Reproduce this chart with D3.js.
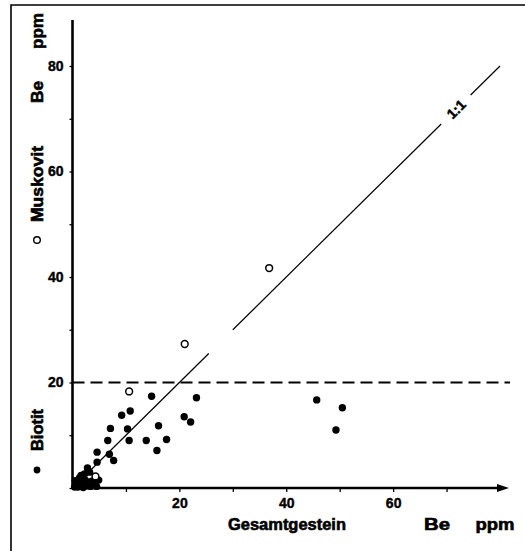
<!DOCTYPE html>
<html>
<head>
<meta charset="utf-8">
<script src="https://cdn.jsdelivr.net/npm/d3@7"></script>
<style>
  body { margin: 0; background: #fff; }
  svg text { font-family: "Liberation Sans", Arial, sans-serif; font-weight: bold; fill: #000; }
</style>
</head>
<body>
<svg class="chart"></svg>
<script>
// Biotit (filled) - Gesamtgestein Be vs. mineral Be, ppm
const biotitX = [14.8, 10.8, 9.2, 7.1, 10.3, 16.1, 6.6, 10.6, 13.8, 17.6, 15.8, 4.6, 6.9, 7.7, 4.6,
  20.9, 22.1, 23.2, 45.7, 50.5, 49.3,
  2.8, 3.2, 2.25, 1.3, 2.4, 3.6, 0.75, 1.7, 2.8, 4.1, 0.4, 4.9, 1.1, 2.1,
  1.6, 0.5, 3.4, 2.0, 4.5, 1.0];
const biotitY = [17.4, 14.6, 13.8, 11.3, 11.2, 11.8, 9.0, 9.0, 9.0, 9.2, 7.1, 6.8, 6.4, 5.2, 4.9,
  13.5, 12.5, 17.1, 16.7, 15.2, 11.0,
  3.8, 3.0, 2.65, 1.9, 1.5, 1.3, 0.75, 0.4, 0.4, 0.75, 0.2, 1.5, 1.1, 0.95,
  2.4, 1.4, 0.3, 0.1, 0.3, 0.2];

// Muskovit (open)
const muskovitX = [10.6, 21.0, 36.8, 4.3];
const muskovitY = [18.3, 27.3, 41.7, 2.2];

// 1:1 line pieces (broken around the label)
const oneToOne = [[0, 25.5], [30, 69], [74.5, 80]];
const biotitLimit = 20;

const yTicks = [0, 10, 20, 30, 40, 50, 60, 70, 80];
const xTicks = [10, 20, 30, 40, 50, 60, 70];
const labelTicks = [20, 40, 60, 80];

const width = 525;
const height = 551;

const svg = d3.select(".chart").attr("width", width).attr("height", height);

const x = d3.scaleLinear().domain([0, 80]).range([72.5, 500]);
const y = d3.scaleLinear().domain([0, 80]).range([488, 66]);

// outer frame (left + top visible)
svg.append("path")
  .attr("d", `M11,${height} V5 H${width}`)
  .attr("fill", "none")
  .attr("stroke", "#000")
  .attr("stroke-width", 1.6);

// y axis ticks + labels
const yAxis = d3.axisLeft(y)
  .tickValues(yTicks)
  .tickSize(3)
  .tickPadding(6)
  .tickFormat((d) => (labelTicks.includes(d) ? d : ""));

const gy = svg.append("g")
  .attr("transform", `translate(${x(0)},0)`)
  .call(yAxis);
gy.select(".domain").remove();
gy.selectAll("line").attr("stroke-width", 1.3);
gy.selectAll("text")
  .style("font-size", "14px").style("font-family", null)
  .attr("stroke", "#000").attr("stroke-width", 0.4);

// x axis ticks + labels
const xAxis = d3.axisBottom(x)
  .tickValues(xTicks)
  .tickSize(4)
  .tickPadding(6)
  .tickFormat((d) => (labelTicks.includes(d) ? d : ""));

const gx = svg.append("g")
  .attr("transform", `translate(0,${y(0)})`)
  .call(xAxis);
gx.select(".domain").remove();
gx.selectAll("line").attr("stroke-width", 1.3);
gx.selectAll("text")
  .style("font-size", "14px").style("font-family", null)
  .attr("stroke", "#000").attr("stroke-width", 0.4);

// axis lines
svg.append("line")
  .attr("x1", x(0)).attr("x2", x(0))
  .attr("y1", y(0) + 1).attr("y2", y(88.7))
  .attr("stroke", "#000").attr("stroke-width", 2.6);

svg.append("line")
  .attr("x1", x(0) - 1).attr("x2", 500)
  .attr("y1", y(0)).attr("y2", y(0))
  .attr("stroke", "#000").attr("stroke-width", 2.6);

svg.append("path")
  .attr("d", `M497,${y(0) - 4} L509,${y(0)} L497,${y(0) + 4} Z`)
  .attr("fill", "#000");

// dashed 20 ppm line
svg.append("line")
  .attr("x1", x(0)).attr("x2", 510)
  .attr("y1", y(biotitLimit)).attr("y2", y(biotitLimit))
  .attr("stroke", "#000")
  .attr("stroke-width", 2)
  .attr("stroke-dasharray", "12,6");

// 1:1 line
svg.append("g")
  .selectAll("line")
  .data(oneToOne)
  .join("line")
  .attr("x1", (d) => x(d[0])).attr("y1", (d) => y(d[0]))
  .attr("x2", (d) => x(d[1])).attr("y2", (d) => y(d[1]))
  .attr("stroke", "#000")
  .attr("stroke-width", 1.2);

const angle = Math.atan2(y(80) - y(0), x(80) - x(0)) * 180 / Math.PI;
svg.append("text")
  .attr("transform", `translate(${x(71.8)},${y(71.8)}) rotate(${angle})`)
  .attr("text-anchor", "middle")
  .attr("dy", "0.35em")
  .attr("stroke", "#000").attr("stroke-width", 0.5)
  .style("font-size", "14px")
  .text("1:1");

// points
const biotit = biotitX.map((v, i) => ({ x: v, y: biotitY[i] }));
const muskovit = muskovitX.map((v, i) => ({ x: v, y: muskovitY[i] }));

svg.append("g")
  .selectAll("circle")
  .data(biotit)
  .join("circle")
  .attr("cx", (d) => x(d.x))
  .attr("cy", (d) => y(d.y))
  .attr("r", 3.7)
  .attr("fill", "#000");

svg.append("g")
  .selectAll("circle")
  .data(muskovit)
  .join("circle")
  .attr("cx", (d) => x(d.x))
  .attr("cy", (d) => y(d.y))
  .attr("r", 3.4)
  .attr("fill", "#fff")
  .attr("stroke", "#000")
  .attr("stroke-width", 1.5);

// y axis title pieces (rotated)
const vText = (txt, cy, len) => {
  svg.append("text")
    .attr("transform", `translate(43,${cy}) rotate(-90)`)
    .attr("text-anchor", "middle")
    .attr("textLength", len)
    .attr("lengthAdjust", "spacingAndGlyphs")
    .attr("stroke", "#000").attr("stroke-width", 0.6)
    .style("font-size", "16px")
    .text(txt);
};
vText("ppm", 31, 36);
vText("Be", 92, 22);
vText("Muskovit", 184, 76);
vText("Biotit", 430, 42);

// legend symbols beside the y title
svg.append("circle")
  .attr("cx", 37).attr("cy", 240).attr("r", 3.3)
  .attr("fill", "#fff").attr("stroke", "#000").attr("stroke-width", 1.4);
svg.append("circle")
  .attr("cx", 37).attr("cy", 470).attr("r", 3.4)
  .attr("fill", "#000");

// x axis title
const hText = (txt, cx, len) => {
  svg.append("text")
    .attr("x", cx).attr("y", 530)
    .attr("text-anchor", "middle")
    .attr("textLength", len)
    .attr("lengthAdjust", "spacingAndGlyphs")
    .attr("stroke", "#000").attr("stroke-width", 0.6)
    .style("font-size", "16px")
    .text(txt);
};
hText("Gesamtgestein", 287, 118);
hText("Be", 437, 26);
hText("ppm", 495, 39);
</script>
</body>
</html>
